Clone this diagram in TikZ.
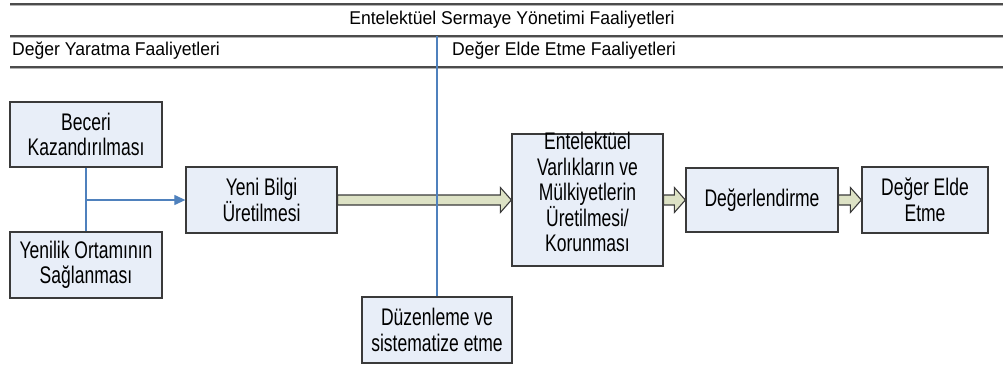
\documentclass[tikz,border=0pt]{standalone}
\usepackage{fontspec}
\setmainfont[FakeStretch=0.73]{Liberation Sans}
\newfontfamily\headfont[FakeStretch=0.95]{Liberation Sans}
\usetikzlibrary{calc,arrows.meta}

\definecolor{boxfill}{RGB}{232,238,248}
\definecolor{boxline}{RGB}{58,58,58}
\definecolor{flowblue}{RGB}{79,129,189}
\definecolor{arrfill}{RGB}{221,226,197}

\newcommand\dgboxfont{\fontsize{24}{25.5}\selectfont}
\newcommand\dgheadfont{\headfont\fontsize{18.5}{21}\selectfont}

% hollow block arrow from one anchor to another
\newcommand\fatarrow[2]{%
  \draw[fatarr] ($(#1)+(0,-5)$) -- ($(#2)+(-11,-5)$) -- ($(#2)+(-11,-12.5)$)
    -- (#2) -- ($(#2)+(-11,12.5)$) -- ($(#2)+(-11,5)$) -- ($(#1)+(0,5)$) -- cycle;}

\tikzset{
  stagebox/.style={draw=boxline, line width=1.3pt, fill=boxfill, align=center,
    inner sep=0pt, font=\dgboxfont, text=black},
  fatarr/.style={draw=boxline, line width=1.1pt, fill=arrfill, line join=miter},
  flowline/.style={draw=flowblue, line width=1.2pt},
  rule/.style={line width=3pt, black!30},
  rulecore/.style={line width=1.2pt, black!70},
  headtext/.style={font=\dgheadfont, inner sep=0pt}
}

\begin{document}
\begin{tikzpicture}[x=1pt,y=-1pt]
\useasboundingbox (0,0) rectangle (1003,367);

% header rules
\foreach \yy in {4,36,67} {
  \draw[rule] (10,\yy) -- (1003,\yy);
  \draw[rulecore] (10,\yy) -- (1003,\yy);
}

% header texts
\node[headtext] (title) at (512,20) {Entelektüel Sermaye Yönetimi Faaliyetleri};
\node[headtext, anchor=west] (create) at (12,51) {Değer Yaratma Faaliyetleri};
\node[headtext, anchor=west] (capture) at (452,51) {Değer Elde Etme Faaliyetleri};

% stage boxes
\node[stagebox, minimum width=152pt, minimum height=65pt] (bec) at (86,134.5) {Beceri\\Kazandırılması};
\node[stagebox, minimum width=152pt, minimum height=66pt] (yen) at (86,265) {Yenilik Ortamının\\Sağlanması};
\node[stagebox, minimum width=151pt, minimum height=66pt] (ybu) at (261.5,200) {Yeni Bilgi\\Üretilmesi};
\node[stagebox, minimum width=151pt, minimum height=132pt] (ent) at (587.5,200) {};
\node[align=center, inner sep=0pt, font=\dgboxfont] (enttext) at (587.5,192)
  {Entelektüel\\Varlıkların ve\\Mülkiyetlerin\\Üretilmesi/\\Korunması};
\node[stagebox, minimum width=152pt, minimum height=64pt] (deg) at (762,200) {Değerlendirme};
\node[stagebox, minimum width=126pt, minimum height=66pt] (dee) at (925,200) {Değer Elde\\Etme};
\node[stagebox, minimum width=150pt, minimum height=66pt] (duz) at (437,330) {Düzenleme ve\\sistematize etme};

% block arrows along the main flow
\fatarrow{ybu.east}{ent.west}
\fatarrow{ent.east}{deg.west}
\fatarrow{deg.east}{dee.west}

% inputs joining into new knowledge
\draw[flowline] (bec.south) -- (yen.north);
\draw[flowline, -{Triangle[length=11pt,width=10pt]}] (bec.south |- ybu.west) -- (ybu.west);

% divider between the two activity groups
\coordinate (divtop) at (437,36);
\draw[flowline] (divtop) -- (duz.north);
\end{tikzpicture}
\end{document}
